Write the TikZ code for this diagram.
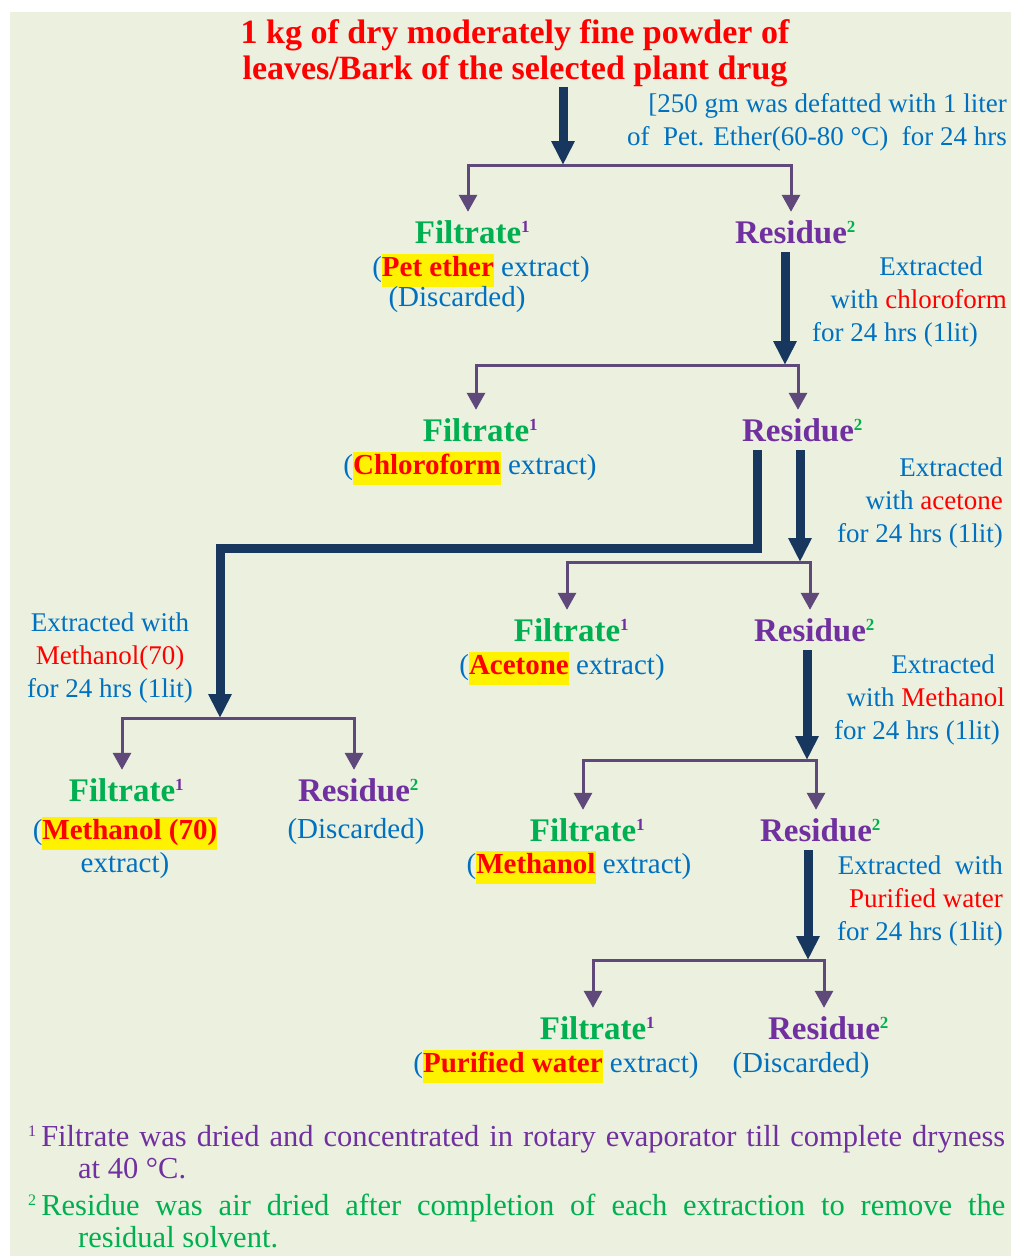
\documentclass[tikz,border=0pt]{standalone}
\usepackage{fontspec}
\setmainfont{Liberation Serif}
\usepackage{xcolor}
\usepackage{tikz}
\usetikzlibrary{arrows.meta}
\definecolor{bgolive}{HTML}{EBF1DE}
\definecolor{noteblue}{HTML}{0070C0}
\definecolor{filtgreen}{HTML}{00B050}
\definecolor{respurple}{HTML}{7030A0}
\definecolor{splitpurple}{HTML}{5F497A}
\definecolor{darknavy}{HTML}{17375E}

\newcommand{\supone}{\rlap{\raisebox{11pt}{\fontsize{17}{17}\selectfont\color{respurple}1}}}
\newcommand{\suptwo}{\rlap{\raisebox{11pt}{\fontsize{17}{17}\selectfont\color{filtgreen}2}}}
\newcommand{\hlite}[1]{{\setlength{\fboxsep}{0pt}\colorbox{yellow}{\strut\textcolor{red}{\bfseries #1}}}}
\newcommand{\filt}{\textcolor{filtgreen}{Filtrate}\supone}
\newcommand{\resid}{\textcolor{respurple}{Residue}\suptwo}
\newcommand{\fnmark}[1]{\raisebox{10pt}{\fontsize{16}{16}\selectfont #1}\,}

\begin{document}
\begin{tikzpicture}[x=1pt, y=-1pt,
    heading/.style={font=\fontsize{33}{36}\selectfont\bfseries, text height=22pt, text depth=0pt, inner xsep=0pt, inner ysep=9pt},
    subtext/.style={font=\fontsize{29}{33}\selectfont, text=noteblue, inner sep=0pt},
    notetext/.style={font=\fontsize{27}{33}\selectfont, text=noteblue, inner sep=0pt},
    heavy/.style={draw=darknavy, line width=9pt, -{Triangle[width=22pt,length=24pt]}},
    split/.style={draw=splitpurple, line width=3pt, -{Triangle[width=18pt,length=17pt]}},
    fnote/.style={font=\fontsize{30.5}{32}\selectfont, inner sep=0pt, align=left}]
        \useasboundingbox (0,0) rectangle (1011,1256);
        \fill[bgolive] (10,12) rectangle (1011,1256);

        % Starting material
        \node[font=\fontsize{34}{36}\selectfont\bfseries, text=red, align=center, inner sep=0pt] (src) at (515,53)
            {1 kg of dry moderately fine powder of\\leaves/Bark of the selected plant drug};
        \node[notetext, anchor=east, align=right] (cond1) at (1007,122)
            {[250 gm was defatted with 1 liter\\of\ \ Pet. Ether(60-80 °C)\ \ for 24 hrs};

        % Pet ether step
        \coordinate (j1) at (563,165);
        \node[heading] (fil1) at (468,232) {\filt};
        \node[heading] (res1) at (791,232) {\resid};
        \node[subtext] (ext1) at (481,270) {(\hlite{Pet ether} extract)};
        \node[subtext] (dis1) at (457,300) {(Discarded)};
        \draw[heavy] (src.south -| j1) -- (j1);
        \draw[split] (j1) -| (fil1.north);
        \draw[split] (j1) -| (res1.north);

        % Chloroform step
        \coordinate (j2) at (785,365);
        \node[notetext, anchor=east, align=right] (cond2) at (1007,302)
            {Extracted\hspace*{24pt}\\with \textcolor{red}{chloroform}\\for 24 hrs (1lit)\hspace*{29pt}};
        \node[heading] (fil2) at (476,430) {\filt};
        \node[heading] (res2) at (798,430) {\resid};
        \node[subtext] (ext2) at (470,468) {(\hlite{Chloroform} extract)};
        \draw[heavy] (res1.south -| j2) -- (j2);
        \draw[split] (j2) -| (fil2.north);
        \draw[split] (j2) -| (res2.north);

        % Acetone step
        \coordinate (k) at (757,548);
        \coordinate (j3) at (800,562);
        \node[notetext, anchor=east, align=right] (cond3) at (1003,503)
            {Extracted\\with \textcolor{red}{acetone}\\for 24 hrs (1lit)};
        \node[heading] (fil3) at (567,630) {\filt};
        \node[heading] (res3) at (810,630) {\resid};
        \node[subtext] (ext3) at (562,668) {(\hlite{Acetone} extract)};
        \draw[heavy] (res2.south -| j3) -- (j3);
        \draw[split] (j3) -| (fil3.north);
        \draw[split] (j3) -| (res3.north);

        % Methanol step
        \coordinate (j4) at (807,760);
        \node[notetext, anchor=east, align=right] (cond4) at (1005,700)
            {Extracted\hspace*{10pt}\\with \textcolor{red}{Methanol}\\for 24 hrs (1lit)\hspace*{5pt}};
        \node[heading] (fil4) at (583,830) {\filt};
        \node[heading] (res4) at (816,830) {\resid};
        \node[subtext] (ext4) at (579,867) {(\hlite{Methanol} extract)};
        \draw[heavy] (res3.south -| j4) -- (j4);
        \draw[split] (j4) -| (fil4.north);
        \draw[split] (j4) -| (res4.north);

        % Purified water step
        \coordinate (j5) at (808,960);
        \node[notetext, anchor=east, align=right] (cond5) at (1003,901)
            {Extracted\ \ with\\\textcolor{red}{Purified water}\\for 24 hrs (1lit)};
        \node[heading] (fil5) at (593,1028) {\filt};
        \node[heading] (res5) at (824,1028) {\resid};
        \node[subtext] (ext5) at (556,1066) {(\hlite{Purified water} extract)};
        \node[subtext] (dis5) at (801,1066) {(Discarded)};
        \draw[heavy] (res4.south -| j5) -- (j5);
        \draw[split] (j5) -| (fil5.north);
        \draw[split] (j5) -| (res5.north);

        % Methanol (70) branch
        \coordinate (j6) at (220,718);
        \node[notetext, align=center] (cond6) at (110,658)
            {Extracted with\\\textcolor{red}{Methanol(70)}\\for 24 hrs (1lit)};
        \node[heading] (fil6) at (122,790) {\filt};
        \node[heading] (res6) at (354,790) {\resid};
        \node[subtext, align=center] (ext6) at (125,848) {(\hlite{Methanol (70)}\\extract)};
        \node[subtext] (dis6) at (356,832) {(Discarded)};
        \draw[heavy] (res2.south -| k) -- (k) -| (j6);
        \draw[split] (j6) -| (fil6.north);
        \draw[split] (j6) -| (res6.north);

        % Footnotes
        \node[fnote, text=respurple, anchor=north west] (fn1) at (28,1125)
            {\makebox[977pt][s]{\fnmark{1}Filtrate was dried and concentrated in rotary evaporator till complete dryness}\\
             \hspace*{50pt}at 40 °C.};
        \node[fnote, text=filtgreen, anchor=north west] (fn2) at (28,1194)
            {\makebox[977pt][s]{\fnmark{2}Residue was air dried after completion of each extraction to remove the}\\
             \hspace*{50pt}residual solvent.};
\end{tikzpicture}
\end{document}
